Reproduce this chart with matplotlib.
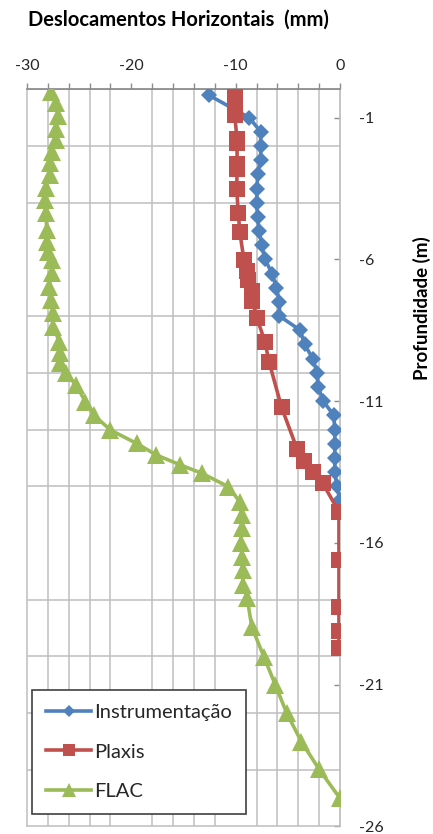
import numpy as np
import matplotlib
matplotlib.use("Agg")
import matplotlib.pyplot as plt

plt.rcParams["axes.unicode_minus"] = False
plt.rcParams["font.family"] = ["Lato", "DejaVu Sans"]

# Depth (m) and horizontal displacement (mm) for each series
instr_depth = [-0.2, -1.0, -1.5, -2.0, -2.5, -3.0, -3.5, -4.0, -4.5, -5.0, -5.5,
               -6.0, -6.5, -7.0, -7.5, -8.0, -8.5, -9.0, -9.5, -10.0, -10.5,
               -11.0, -11.5, -12.0, -12.5, -13.0, -13.5, -14.0, -14.5]
instr_disp = [-12.6, -8.7, -7.6, -7.6, -7.6, -7.9, -7.95, -8.0, -7.9, -7.75, -7.5,
              -7.2, -6.5, -6.1, -5.8, -5.8, -3.8, -3.4, -2.6, -2.2, -2.1,
              -1.6, -0.6, -0.5, -0.5, -0.5, -0.5, -0.3, 0.0]

plaxis_depth = [0.0, -0.45, -0.9, -1.74, -1.91, -2.65, -2.8, -3.53, -4.36, -5.05,
                -6.03, -6.42, -6.71, -7.12, -7.45, -8.08, -8.9, -9.61, -11.22,
                -12.7, -13.1, -13.5, -13.9, -14.9, -16.6, -18.25, -19.1, -19.7]
plaxis_disp = [-10.1, -10.1, -10.1, -9.87, -9.87, -9.86, -9.86, -9.9, -9.75, -9.6,
               -9.2, -8.95, -8.8, -8.45, -8.4, -7.95, -7.2, -6.8, -5.6,
               -4.1, -3.45, -2.55, -1.65, -0.1, -0.1, -0.1, -0.1, -0.1]

flac_depth = [-0.08, -0.49, -0.94, -1.41, -1.79, -2.2, -2.61, -3.02, -3.49, -3.9,
              -4.37, -4.96, -5.38, -5.73, -6.02, -6.49, -6.96, -7.43, -7.9, -8.37,
              -8.9, -9.31, -9.66, -10.02, -10.43, -11.02, -11.49, -12.02, -12.49,
              -12.9, -13.25, -13.55, -14.02, -14.55, -15.02, -15.49, -15.99, -16.48,
              -16.95, -17.48, -17.95, -18.97, -20.01, -21.01, -22.01, -23.01,
              -23.99, -25.01]
flac_disp = [-27.7, -27.2, -27.0, -27.2, -27.2, -27.6, -27.8, -27.8, -28.2, -28.3,
             -28.2, -28.1, -28.1, -28.0, -27.6, -27.6, -27.9, -27.7, -27.5, -27.5,
             -26.9, -26.8, -26.8, -26.3, -25.3, -24.4, -23.6, -22.0, -19.5,
             -17.6, -15.3, -13.2, -10.7, -9.6, -9.4, -9.4, -9.5, -9.4,
             -9.3, -9.3, -8.9, -8.45, -7.3, -6.2, -5.1, -3.7,
             -2.0, 0.0]

series_names = ["Instrumentação", "Plaxis", "FLAC"]
x_tick_values = [-30, -20, -10, 0]
y_tick_values = [-1, -6, -11, -16, -21, -26]

W, H, DPI = 433, 834, 100
fig = plt.figure(figsize=(W / DPI, H / DPI), dpi=DPI)
ax = fig.add_axes([27 / W, 1 - 826.4 / H, 313 / W, (826.4 - 89.3) / H])

grid_c = "#BFBFBF"
ax.set_xlim(-30, 0)
ax.set_ylim(-26, 0)

# grid every 2 units on both axes
ax.set_xticks(np.arange(-30, 1, 2), minor=True)
ax.set_yticks(np.arange(-26, 1, 2), minor=True)
ax.grid(which="minor", color=grid_c, linewidth=1.1)
ax.set_axisbelow(True)

ax.xaxis.tick_top()
ax.set_xticks(x_tick_values)
ax.set_xticklabels([str(v) for v in x_tick_values])
ax.tick_params(axis="x", which="both", top=True, bottom=False, direction="out",
               length=4, color="#8C8C8C", width=1.0, pad=8, labelsize=11.5,
               labelcolor="#262626")

ax.yaxis.tick_right()
ax.set_yticks(y_tick_values)
ax.set_yticklabels([str(v) for v in y_tick_values])
ax.tick_params(axis="y", which="major", right=True, left=False, direction="in",
               length=4, color="#8C8C8C", width=1.0, pad=14, labelsize=11.5,
               labelcolor="#262626")
ax.tick_params(axis="y", which="minor", length=0)
for lbl in ax.get_yticklabels():
    lbl.set_horizontalalignment("left")

ax.spines["top"].set_color("#868686")
ax.spines["top"].set_linewidth(1.2)
ax.spines["right"].set_color(grid_c)
ax.spines["right"].set_linewidth(1.3)
ax.spines["left"].set_color(grid_c)
ax.spines["left"].set_linewidth(1.1)
ax.spines["bottom"].set_color(grid_c)
ax.spines["bottom"].set_linewidth(1.1)

ax.plot(instr_disp, instr_depth, color="#4F81BD", linewidth=2.6, marker="D",
        markersize=7.8, markeredgewidth=0, label=series_names[0], zorder=3)
ax.plot(plaxis_disp, plaxis_depth, color="#C0504D", linewidth=2.6, marker="s",
        markersize=11.5, markeredgewidth=0, label=series_names[1], zorder=4)
ax.plot(flac_disp, flac_depth, color="#9BBB59", linewidth=2.6, marker="^",
        markersize=13, markeredgewidth=0, label=series_names[2], zorder=5)

leg = ax.legend(loc="lower left", bbox_to_anchor=(0.016, 0.017), borderaxespad=0,
                fontsize=14.5, labelspacing=1.1, borderpad=0.7, handlelength=2.25,
                handletextpad=0.15, fancybox=False, framealpha=1, edgecolor="#3F3F3F",
                markerscale=0.75)
leg.get_frame().set_linewidth(1.2)
for t in leg.get_texts():
    t.set_color("#262626")

fig.text(28 / W, 1 - 20 / H, "Deslocamentos Horizontais  (mm)", fontsize=14.5,
         fontweight="bold", ha="left", va="center", color="#000000")
fig.text(422 / W, 1 - 308 / H, "Profundidade (m)", fontsize=13.5, fontweight="bold",
         rotation=90, ha="center", va="center", color="#000000")

fig.savefig("out.png", dpi=DPI)
